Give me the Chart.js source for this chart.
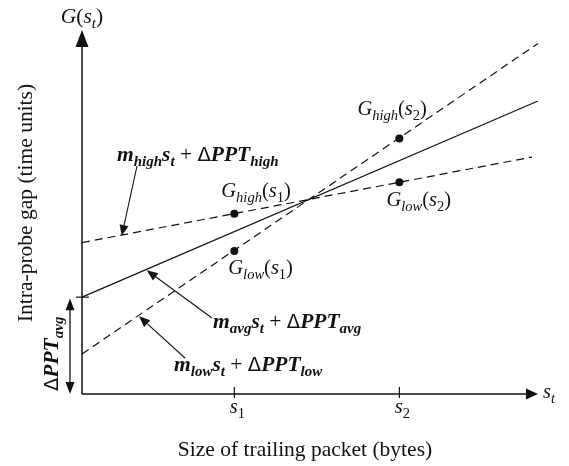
<!DOCTYPE html>
<html>
<head>
<meta charset="utf-8">
<script src="https://cdn.jsdelivr.net/npm/chart.js@4/dist/chart.umd.min.js"></script>
<style>
  html, body { margin: 0; padding: 0; background: #fff; }
  #wrap { width: 569px; height: 466px; position: relative; }
</style>
</head>
<body>
<div id="wrap"><canvas id="c"></canvas></div>
<script>
// Trailing-packet size axis (arbitrary units) and the two probe sizes
const xRange = [0, 100];
const yRange = [0, 100];
const sizeTicks = [33.4, 69.6];          // s1, s2
const sizeTickNames = ['1', '2'];        // subscripts of s

// Straight-line models G(s_t) = m s_t + ΔPPT, given by their end points
const highLineX = [0, 98.7];
const highLineY = [41.6, 65.1];
const avgLineX = [0, 100];
const avgLineY = [26.6, 80.5];
const lowLineX = [0, 100];
const lowLineY = [11.0, 96.3];

// Measured gaps at s1 and s2
const gHigh = [49.5, 70.2];
const gLow = [39.3, 58.2];

const INK = '#111';
const SERIF = '"Liberation Serif", "Times New Roman", serif';
const DELTA_FONT = '"DejaVu Sans", sans-serif';

function pts(xs, ys) { return xs.map((v, i) => ({ x: v, y: ys[i] })); }

const measured = [
  { x: sizeTicks[0], y: gHigh[0] },
  { x: sizeTicks[0], y: gLow[0] },
  { x: sizeTicks[1], y: gHigh[1] },
  { x: sizeTicks[1], y: gLow[1] }
];

// --- rich text helpers (italic / bold / subscripts) ---
function f(style, size, fam) { return style + ' ' + size + 'px ' + (fam || SERIF); }
function richWidth(ctx, segs) {
  let w = 0;
  for (const s of segs) { ctx.font = s.font; w += ctx.measureText(s.t).width + (s.gap || 0); }
  return w;
}
function drawRich(ctx, segs, x, y, align) {
  const w = richWidth(ctx, segs);
  let cx = align === 'center' ? x - w / 2 : (align === 'right' ? x - w : x);
  ctx.textAlign = 'left';
  ctx.textBaseline = 'alphabetic';
  for (const s of segs) {
    ctx.font = s.font;
    ctx.fillText(s.t, cx, y + (s.dy || 0));
    cx += ctx.measureText(s.t).width + (s.gap || 0);
  }
}
const MAIN = 21.5, SUB = 15, SUBDY = 5;
const GMAIN = 20.5, GSUB = 14.5;
function gLabel(sub, idx) {
  return [
    { t: 'G', font: f('italic', GMAIN) },
    { t: sub, font: f('italic', GSUB), dy: SUBDY },
    { t: '(', font: f('normal', GMAIN) },
    { t: 's', font: f('italic', GMAIN) },
    { t: idx, font: f('normal', GSUB), dy: SUBDY },
    { t: ')', font: f('normal', GMAIN) }
  ];
}
function modelLabel(sub) {
  return [
    { t: 'm', font: f('italic bold', MAIN) },
    { t: sub, font: f('italic bold', SUB), dy: SUBDY },
    { t: 's', font: f('italic bold', MAIN) },
    { t: 't', font: f('italic bold', SUB), dy: SUBDY },
    { t: ' + ', font: f('normal', MAIN) },
    { t: 'Δ', font: f('normal', MAIN - 2, DELTA_FONT) },
    { t: 'PPT', font: f('italic bold', MAIN) },
    { t: sub, font: f('italic bold', SUB), dy: SUBDY }
  ];
}

function arrowHead(ctx, tx, ty, fx, fy, len, half) {
  const a = Math.atan2(ty - fy, tx - fx);
  const bx = tx - len * Math.cos(a), by = ty - len * Math.sin(a);
  ctx.beginPath();
  ctx.moveTo(tx, ty);
  ctx.lineTo(bx + half * Math.sin(a), by - half * Math.cos(a));
  ctx.lineTo(bx - half * Math.sin(a), by + half * Math.cos(a));
  ctx.closePath();
  ctx.fill();
  return [bx, by];
}
function arrow(ctx, fx, fy, tx, ty, len, half) {
  const [bx, by] = arrowHead(ctx, tx, ty, fx, fy, len, half);
  ctx.beginPath(); ctx.moveTo(fx, fy); ctx.lineTo(bx, by); ctx.stroke();
}
function onLine(xs, ys, xv) {
  return ys[0] + (ys[1] - ys[0]) * (xv - xs[0]) / (xs[1] - xs[0]);
}

const diagram = {
  id: 'diagram',
  afterDatasetsDraw(chart) {
    const ctx = chart.ctx;
    const X = chart.scales.x, Y = chart.scales.y;
    const px = v => X.getPixelForValue(v), py = v => Y.getPixelForValue(v);
    ctx.save();
    ctx.strokeStyle = INK; ctx.fillStyle = INK;

    // axes with arrow heads
    ctx.lineWidth = 1.5;
    const ox = px(xRange[0]), oy = py(yRange[0]);
    arrow(ctx, ox, oy, ox, py(yRange[1]), 17, 6.5);
    arrow(ctx, ox, oy, px(xRange[1]), oy, 12, 5.5);

    // size ticks s1, s2
    ctx.lineWidth = 1.2;
    sizeTicks.forEach((v, i) => {
      ctx.beginPath(); ctx.moveTo(px(v), oy - 7); ctx.lineTo(px(v), oy + 4); ctx.stroke();
      drawRich(ctx, [
        { t: 's', font: f('italic', GMAIN) },
        { t: sizeTickNames[i], font: f('normal', GSUB), dy: SUBDY }
      ], px(v) + 3, oy + 19, 'center');
    });

    // ΔPPT_avg: tick at the intercept and double arrow down to the axis
    const iy = py(avgLineY[0]);
    ctx.beginPath(); ctx.moveTo(ox - 6, iy); ctx.lineTo(ox + 7, iy); ctx.stroke();
    const dx = ox - 12;
    ctx.lineWidth = 1.3;
    arrowHead(ctx, dx, iy + 1, dx, oy, 12, 4.5);
    arrowHead(ctx, dx, oy, dx, iy, 12, 4.5);
    ctx.beginPath(); ctx.moveTo(dx, iy + 12); ctx.lineTo(dx, oy - 12); ctx.stroke();
    ctx.save();
    ctx.translate(58, oy - 3);
    ctx.rotate(-Math.PI / 2);
    drawRich(ctx, [
      { t: 'Δ', font: f('normal', MAIN - 2, DELTA_FONT) },
      { t: 'PPT', font: f('italic bold', MAIN) },
      { t: 'avg', font: f('italic bold', SUB), dy: SUBDY }
    ], 0, 0, 'left');
    ctx.restore();

    // axis names
    drawRich(ctx, [
      { t: 'G', font: f('italic', MAIN) },
      { t: '(', font: f('normal', MAIN) },
      { t: 's', font: f('italic', MAIN) },
      { t: 't', font: f('italic', SUB), dy: SUBDY },
      { t: ')', font: f('normal', MAIN) }
    ], ox, 23, 'center');
    drawRich(ctx, [
      { t: 's', font: f('italic', GMAIN) },
      { t: 't', font: f('italic', GSUB), dy: SUBDY }
    ], px(xRange[1]) + 5, oy + 4, 'left');

    ctx.font = f('normal', MAIN);
    ctx.textAlign = 'center'; ctx.textBaseline = 'alphabetic';
    ctx.fillText('Size of trailing packet (bytes)', 305, 456);
    ctx.save();
    ctx.translate(32, 203);
    ctx.rotate(-Math.PI / 2);
    ctx.fillText('Intra-probe gap (time units)', 0, 0);
    ctx.restore();

    // labels of the measured gaps
    const gp = measured.map(p => [px(p.x), py(p.y)]);
    drawRich(ctx, gLabel('high', '1'), gp[0][0] - 13, gp[0][1] - 17, 'left');
    drawRich(ctx, gLabel('low', '1'), gp[1][0] - 6, gp[1][1] + 23, 'left');
    drawRich(ctx, gLabel('high', '2'), gp[2][0] - 42, gp[2][1] - 23, 'left');
    drawRich(ctx, gLabel('low', '2'), gp[3][0] - 13, gp[3][1] + 24, 'left');

    // model labels with leader arrows
    ctx.lineWidth = 1.1;
    drawRich(ctx, modelLabel('high'), 117, 161, 'left');
    let tx = 8.7;
    arrow(ctx, 137, 166, px(tx), py(onLine(highLineX, highLineY, tx)) + 1, 11, 4.5);

    drawRich(ctx, modelLabel('avg'), 213, 328, 'left');
    tx = 14.2;
    arrow(ctx, 212, 318, px(tx), py(onLine(avgLineX, avgLineY, tx)) + 1, 11, 4.5);

    drawRich(ctx, modelLabel('low'), 174, 371, 'left');
    tx = 12.5;
    arrow(ctx, 185, 358, px(tx), py(onLine(lowLineX, lowLineY, tx)) + 1, 11, 4.5);

    ctx.restore();
  }
};

new Chart(document.getElementById('c'), {
  type: 'scatter',
  data: {
    datasets: [
      { data: pts(highLineX, highLineY), showLine: true, borderColor: INK, borderWidth: 1.2,
        borderDash: [8, 5], pointRadius: 0, clip: false },
      { data: pts(avgLineX, avgLineY), showLine: true, borderColor: INK, borderWidth: 1.2,
        pointRadius: 0, clip: false },
      { data: pts(lowLineX, lowLineY), showLine: true, borderColor: INK, borderWidth: 1.2,
        borderDash: [8, 5], pointRadius: 0, clip: false },
      { data: measured, showLine: false, pointRadius: 4, pointBackgroundColor: INK,
        pointBorderColor: INK, pointBorderWidth: 0, clip: false }
    ]
  },
  options: {
    responsive: true,
    maintainAspectRatio: false,
    animation: false,
    events: [],
    layout: { padding: { left: 82, right: 31, top: 30, bottom: 72 } },
    plugins: { legend: { display: false }, tooltip: { enabled: false }, title: { display: false } },
    scales: {
      x: { type: 'linear', min: xRange[0], max: xRange[1], display: false },
      y: { type: 'linear', min: yRange[0], max: yRange[1], display: false }
    }
  },
  plugins: [diagram]
});
</script>
</body>
</html>
